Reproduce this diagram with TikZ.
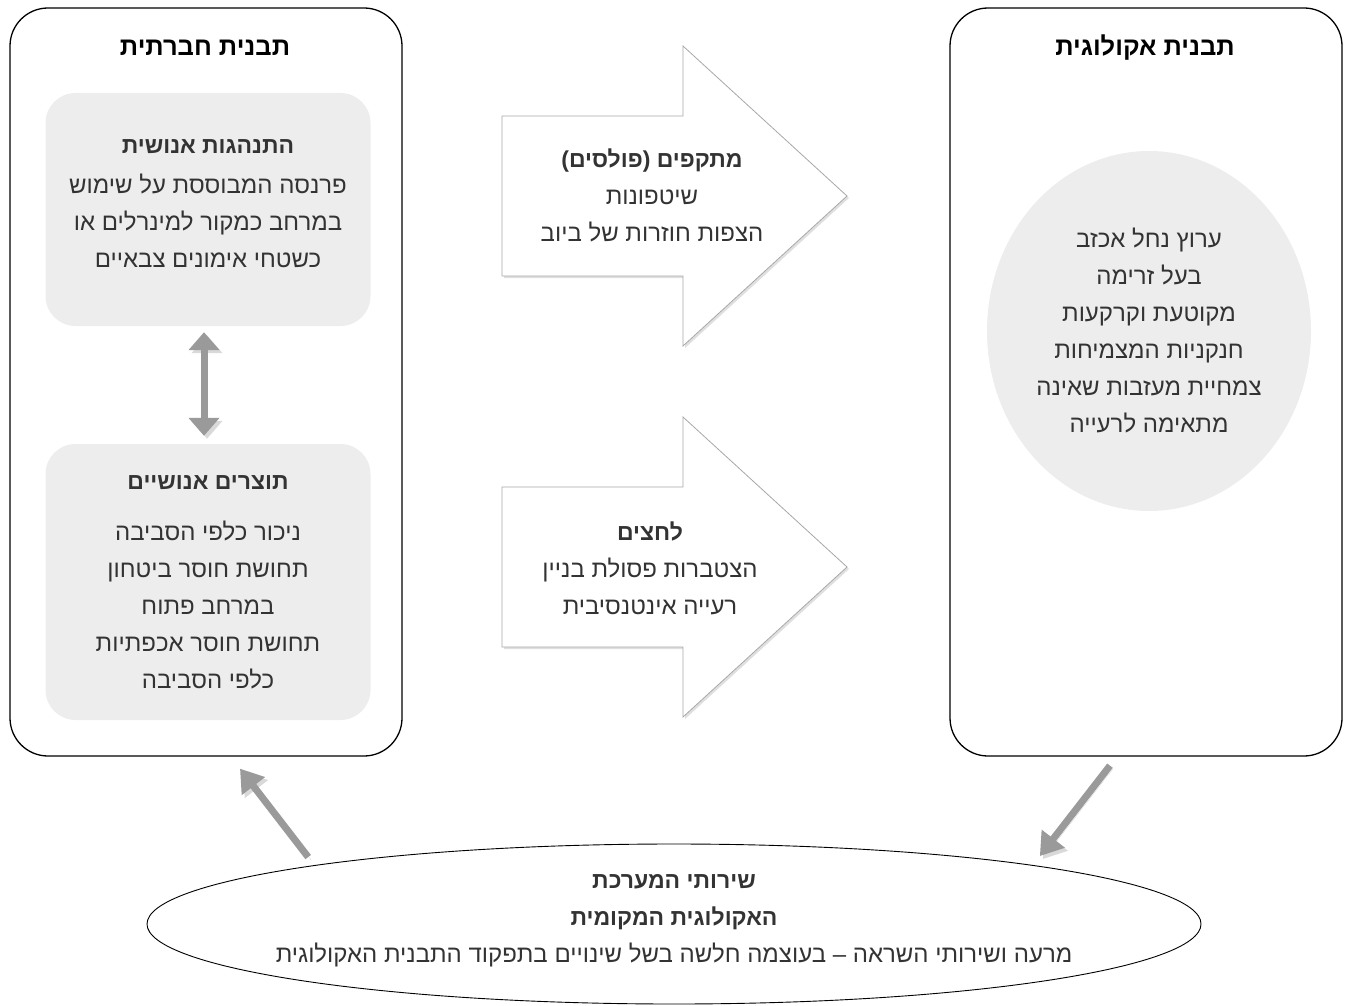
\documentclass[tikz,border=0pt]{standalone}
\usepackage{fontspec}
\setmainfont{Liberation Sans}
\newfontfamily\hebfont[Script=Hebrew]{Liberation Sans}
\TeXXeTstate=1
\usepackage{tikz}
\usetikzlibrary{arrows.meta,shapes.geometric,shadows,positioning}

\definecolor{boxgray}{HTML}{EDEDED}
\definecolor{arrowgray}{HTML}{9A9A9A}
\definecolor{textgray}{HTML}{333333}
\definecolor{edgegray}{HTML}{A8A8A8}

\newcommand{\hebbody}{\hebfont\fontsize{24}{37}\selectfont}
\newcommand{\hebline}[1]{\beginR#1\endR}
\newcommand{\hebhead}[1]{{\fontsize{23}{37}\selectfont\bfseries\beginR#1\endR}}

\begin{document}
\begin{tikzpicture}[x=1pt,y=-1pt,
	frame/.style={draw=black, line width=1.3pt, rounded corners=38pt,
		minimum width=392pt, minimum height=748pt},
	frametitle/.style={font=\hebfont\fontsize{25.5}{28}\selectfont\bfseries, text=black},
	graybox/.style={fill=boxgray, rounded corners=30pt, minimum width=325pt,
		align=center, text=textgray, font=\hebbody, inner sep=0pt},
	arrowtext/.style={align=center, text=textgray, font=\hebbody, inner sep=0pt},
	blockarrow/.style={draw=edgegray, fill=white, line width=0.8pt,
		drop shadow={shadow xshift=2pt, shadow yshift=-2pt, opacity=0.25}},
	flowarrow/.style={draw=arrowgray, line width=7pt,
		-{Triangle[width=28pt,length=22pt]},
		preaction={draw=black!15, transform canvas={shift={(3pt,-3pt)}}}},
	twoarrow/.style={draw=arrowgray, line width=7pt,
		{Triangle[width=30pt,length=18pt]}-{Triangle[width=30pt,length=18pt]},
		preaction={draw=black!15, transform canvas={shift={(3pt,-3pt)}}}}]
	
	\useasboundingbox (0,0) rectangle (1346,1006);
	
	% draw frames
	\node[frame] (socialbox) at (206,382) {};
	\node[frame] (ecobox) at (1146,382) {};
	\node[frametitle] (socialtitle) at (205,48) {\hebline{תבנית חברתית}};
	\node[frametitle] (ecotitle) at (1145,48) {\hebline{תבנית אקולוגית}};
	
	% draw gray boxes
	\node[graybox, minimum height=233pt] (behaviour) at (208,209.5)
	{\hebhead{התנהגות אנושית}\\[3pt] \hebline{פרנסה המבוססת על שימוש}\\
		\hebline{במרחב כמקור למינרלים או}\\ \hebline{כשטחי אימונים צבאיים}\\[-25pt]};
	\node[graybox, minimum height=276pt] (products) at (208,582)
	{\hebhead{תוצרים אנושיים}\\[14pt] \hebline{ניכור כלפי הסביבה}\\
		\hebline{תחושת חוסר ביטחון}\\ \hebline{במרחב פתוח}\\
		\hebline{תחושת חוסר אכפתיות}\\ \hebline{כלפי הסביבה}};
	\draw[twoarrow, shorten <=6pt, shorten >=8pt]
	([xshift=-4pt]behaviour.south) -- ([xshift=-4pt]products.north);
	
	% draw ecological ellipse
	\node[ellipse, fill=boxgray, inner sep=0pt, minimum width=324pt, minimum height=360pt,
	align=center, text=textgray, font=\hebbody] (stream) at (1149,331)
	{\hebline{ערוץ נחל אכזב}\\ \hebline{בעל זרימה}\\ \hebline{מקוטעת וקרקעות}\\
		\hebline{חנקניות המצמיחות}\\ \hebline{צמחיית מעזבות שאינה}\\ \hebline{מתאימה לרעייה}};
	
	% draw block arrows
	\foreach \c in {196,567}
	\draw[blockarrow] (502,\c-80) -- (683,\c-80) -- (683,\c-150) -- (847,\c)
	-- (683,\c+150) -- (683,\c+80) -- (502,\c+80) -- cycle;
	\node[arrowtext] (pulses) at (652,195)
	{\hebhead{מתקפים (פולסים)}\\ \hebline{שיטפונות}\\ \hebline{הצפות חוזרות של ביוב}};
	\node[arrowtext] (pressures) at (650,568)
	{\hebhead{לחצים}\\ \hebline{הצטברות פסולת בניין}\\ \hebline{רעייה אינטנסיבית}};
	
	% draw services ellipse
	\node[ellipse, draw=black, line width=0.9pt, minimum width=1054pt, minimum height=160pt]
	(services) at (674,924) {};
	\node[arrowtext] (servicestext) at (674,921)
	{\hebhead{שירותי המערכת}\\ \hebhead{האקולוגית המקומית}\\
		\hebline{מרעה ושירותי השראה – בעוצמה חלשה בשל שינויים בתפקוד התבנית האקולוגית}};
	
	% draw arrows between services and frames
	\draw[flowarrow] ([yshift=9pt]services.171) -- ([xshift=34pt,yshift=-12pt]socialbox.south);
	\draw[flowarrow] ([xshift=-36pt,yshift=-9pt]ecobox.south) -- ([yshift=10pt]services.9);
	
\end{tikzpicture}
\end{document}
